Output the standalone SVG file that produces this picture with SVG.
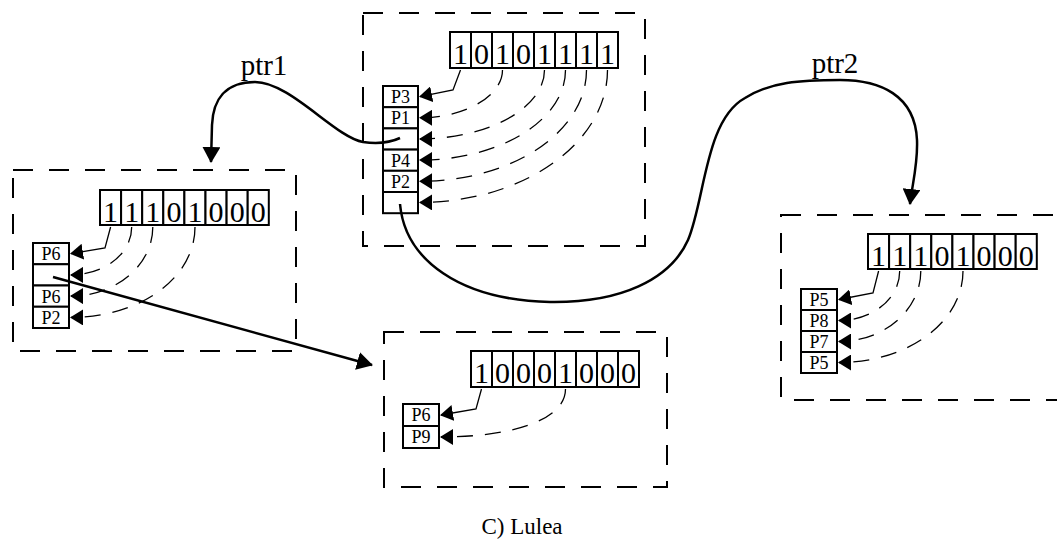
<svg xmlns="http://www.w3.org/2000/svg" width="1057" height="542" viewBox="0 0 1057 542">
<style>
.box{fill:none;stroke:#000;stroke-width:2;stroke-dasharray:20 16}
.cell{fill:#fff;stroke:#000;stroke-width:2}
.bit{font-family:"Liberation Serif","Times New Roman",serif;font-size:30px;text-anchor:middle;fill:#000}
.pl{font-family:"Liberation Serif","Times New Roman",serif;font-size:18px;text-anchor:middle;fill:#000}
.lbl{font-family:"Liberation Serif","Times New Roman",serif;font-size:29px;text-anchor:middle;fill:#000}
.cap{font-family:"Liberation Serif","Times New Roman",serif;font-size:23px;text-anchor:middle;fill:#000}
.dl{fill:none;stroke:#000;stroke-width:1.3;stroke-dasharray:16 12;marker-end:url(#sa)}
.sl{fill:none;stroke:#000;stroke-width:1.3;marker-end:url(#sa)}
.big{fill:none;stroke:#000;stroke-width:2.5;marker-end:url(#ba)}
</style>
<defs>
<marker id="sa" viewBox="0 0 13 16" markerWidth="13" markerHeight="16" refX="12" refY="8" orient="auto" markerUnits="userSpaceOnUse"><path d="M0,0 L13,8 L0,16 z" fill="#000"/></marker>
<marker id="ba" viewBox="0 0 16 18" markerWidth="16" markerHeight="18" refX="15" refY="9" orient="auto" markerUnits="userSpaceOnUse"><path d="M0,0 L16,9 L0,18 z" fill="#000"/></marker>
</defs>
<rect width="1057" height="542" fill="#fff"/>

<g id="node-top">
<rect class="box" x="363" y="13" width="282" height="233"/>
<g>
<rect class="cell" x="450" y="32" width="21" height="36"/><rect class="cell" x="471" y="32" width="21" height="36"/><rect class="cell" x="492" y="32" width="21" height="36"/><rect class="cell" x="513" y="32" width="21" height="36"/><rect class="cell" x="534" y="32" width="21" height="36"/><rect class="cell" x="555" y="32" width="21" height="36"/><rect class="cell" x="576" y="32" width="21" height="36"/><rect class="cell" x="597" y="32" width="21" height="36"/>
<text class="bit" x="460.5" y="64">1</text><text class="bit" x="481.5" y="64">0</text><text class="bit" x="502.5" y="64">1</text><text class="bit" x="523.5" y="64">0</text><text class="bit" x="544.5" y="64">1</text><text class="bit" x="565.5" y="64">1</text><text class="bit" x="586.5" y="64">1</text><text class="bit" x="607.5" y="64">1</text>
</g>
<g>
<rect class="cell" x="383" y="86" width="35" height="21.2"/><rect class="cell" x="383" y="107.2" width="35" height="21.2"/><rect class="cell" x="383" y="128.4" width="35" height="21.2"/><rect class="cell" x="383" y="149.6" width="35" height="21.2"/><rect class="cell" x="383" y="170.8" width="35" height="21.2"/><rect class="cell" x="383" y="192" width="35" height="21.2"/>
<text class="pl" x="400.5" y="103">P3</text><text class="pl" x="400.5" y="124">P1</text><text class="pl" x="400.5" y="166.5">P4</text><text class="pl" x="400.5" y="187.5">P2</text>
</g>
</g>

<g id="node-left">
<rect class="box" x="13" y="170" width="283" height="181"/>
<g>
<rect class="cell" x="100" y="190" width="21.1" height="35"/><rect class="cell" x="121.1" y="190" width="21.1" height="35"/><rect class="cell" x="142.2" y="190" width="21.1" height="35"/><rect class="cell" x="163.3" y="190" width="21.1" height="35"/><rect class="cell" x="184.4" y="190" width="21.1" height="35"/><rect class="cell" x="205.5" y="190" width="21.1" height="35"/><rect class="cell" x="226.6" y="190" width="21.1" height="35"/><rect class="cell" x="247.7" y="190" width="21.1" height="35"/>
<text class="bit" x="110.6" y="222">1</text><text class="bit" x="131.7" y="222">1</text><text class="bit" x="152.8" y="222">1</text><text class="bit" x="173.9" y="222">0</text><text class="bit" x="195" y="222">1</text><text class="bit" x="216.1" y="222">0</text><text class="bit" x="237.2" y="222">0</text><text class="bit" x="258.3" y="222">0</text>
</g>
<g>
<rect class="cell" x="33" y="243" width="36" height="21.25"/><rect class="cell" x="33" y="264.25" width="36" height="21.25"/><rect class="cell" x="33" y="285.5" width="36" height="21.25"/><rect class="cell" x="33" y="306.75" width="36" height="21.25"/>
<text class="pl" x="51" y="260">P6</text><text class="pl" x="51" y="302.5">P6</text><text class="pl" x="51" y="324">P2</text>
</g>
</g>

<g id="node-right">
<rect class="box" x="781" y="215" width="284" height="185"/>
<g>
<rect class="cell" x="868" y="234" width="21.1" height="35"/><rect class="cell" x="889.1" y="234" width="21.1" height="35"/><rect class="cell" x="910.2" y="234" width="21.1" height="35"/><rect class="cell" x="931.3" y="234" width="21.1" height="35"/><rect class="cell" x="952.4" y="234" width="21.1" height="35"/><rect class="cell" x="973.5" y="234" width="21.1" height="35"/><rect class="cell" x="994.6" y="234" width="21.1" height="35"/><rect class="cell" x="1015.7" y="234" width="21.1" height="35"/>
<text class="bit" x="878.6" y="266">1</text><text class="bit" x="899.7" y="266">1</text><text class="bit" x="920.8" y="266">1</text><text class="bit" x="941.9" y="266">0</text><text class="bit" x="963" y="266">1</text><text class="bit" x="984.1" y="266">0</text><text class="bit" x="1005.2" y="266">0</text><text class="bit" x="1026.3" y="266">0</text>
</g>
<g>
<rect class="cell" x="801" y="289" width="36" height="21"/><rect class="cell" x="801" y="310" width="36" height="21"/><rect class="cell" x="801" y="331" width="36" height="21"/><rect class="cell" x="801" y="352" width="36" height="21"/>
<text class="pl" x="819" y="305.5">P5</text><text class="pl" x="819" y="326.5">P8</text><text class="pl" x="819" y="347.5">P7</text><text class="pl" x="819" y="368.5">P5</text>
</g>
</g>

<g id="node-bottom">
<rect class="box" x="384" y="332" width="283" height="155"/>
<g>
<rect class="cell" x="471" y="351" width="21" height="36"/><rect class="cell" x="492" y="351" width="21" height="36"/><rect class="cell" x="513" y="351" width="21" height="36"/><rect class="cell" x="534" y="351" width="21" height="36"/><rect class="cell" x="555" y="351" width="21" height="36"/><rect class="cell" x="576" y="351" width="21" height="36"/><rect class="cell" x="597" y="351" width="21" height="36"/><rect class="cell" x="618" y="351" width="21" height="36"/>
<text class="bit" x="481.5" y="383">1</text><text class="bit" x="502.5" y="383">0</text><text class="bit" x="523.5" y="383">0</text><text class="bit" x="544.5" y="383">0</text><text class="bit" x="565.5" y="383">1</text><text class="bit" x="586.5" y="383">0</text><text class="bit" x="607.5" y="383">0</text><text class="bit" x="628.5" y="383">0</text>
</g>
<g>
<rect class="cell" x="403" y="404" width="36" height="22"/><rect class="cell" x="403" y="426" width="36" height="22"/>
<text class="pl" x="421" y="421">P6</text><text class="pl" x="421" y="443">P9</text>
</g>
</g>

<g id="connectors">
<!-- top box -->
<path class="sl" d="M460.5 70 L453 90 L420 96.6"/>
<path class="dl" d="M502.5 70 C502.5 96,465 117.8,420 117.8"/>
<path class="dl" d="M544.5 70 C544.5 108,488 138.9,420 138.9"/>
<path class="dl" d="M565.5 70 C565.5 120,500 160.1,420 160.1"/>
<path class="dl" d="M586.5 70 C586.5 132,512 181.3,420 181.3"/>
<path class="dl" d="M607.5 70 C607.5 143,523 202.4,420 202.4"/>
<!-- left box -->
<path class="sl" d="M110.6 227 L105 248 L71 253.6"/>
<path class="dl" d="M131.7 227 C131.7 254,104 274.9,71 274.9"/>
<path class="dl" d="M152.8 227 C152.8 265,116 296.1,71 296.1"/>
<path class="dl" d="M195 227 C195 278,140 317.4,71 317.4"/>
<!-- right box -->
<path class="sl" d="M878.6 271 L873 293 L839 299.5"/>
<path class="dl" d="M899.7 271 C899.7 299,872 320.5,839 320.5"/>
<path class="dl" d="M920.8 271 C920.8 310,884 341.5,839 341.5"/>
<path class="dl" d="M963 271 C963 322,908 362.5,839 362.5"/>
<!-- bottom box -->
<path class="sl" d="M481.5 389 L476 409 L441 415"/>
<path class="dl" d="M565.5 389 C565.5 420,512 437,441 437"/>
<!-- pointers -->
<path class="big" d="M400 138 Q385 145 363 142 C335 137,290 82,255 82 C225 82,213 100,212 125 L211 162"/>
<path class="big" d="M400 204 C405 260,460 300,550 302 C620 303,670 280,688 240 C705 200,705 120,745 98 C770 82,800 80,840 80 C880 80,915 95,917 140 C918 165,912 185,910 204"/>
<path class="big" d="M53 277 L372 365"/>
<text class="lbl" x="264" y="75">ptr1</text>
<text class="lbl" x="835" y="73">ptr2</text>
</g>

<text class="cap" x="522" y="534">C) Lulea</text>
</svg>
